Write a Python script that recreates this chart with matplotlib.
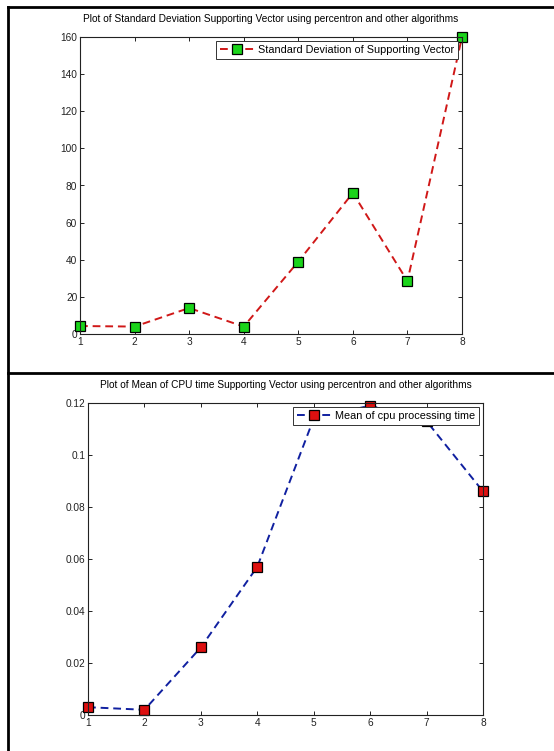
import matplotlib
matplotlib.use("Agg")
import matplotlib.pyplot as plt
from matplotlib.lines import Line2D

plt.rcParams['font.family'] = ['Liberation Sans', 'DejaVu Sans']

x_vals = [1, 2, 3, 4, 5, 6, 7, 8]
std_sv = [4.3, 4.0, 14.0, 4.0, 39.0, 76.0, 28.5, 160.0]
cpu_mean = [0.003, 0.002, 0.026, 0.057, 0.114, 0.119, 0.113, 0.086]

title1 = "Plot of Standard Deviation Supporting Vector using percentron and other algorithms"
title2 = "Plot of Mean of CPU time Supporting Vector using percentron and other algorithms"
label1 = "Standard Deviation of Supporting Vector"
label2 = "Mean of cpu processing time"
y1_ticks = [0, 20, 40, 60, 80, 100, 120, 140, 160]
y2_ticks = [0, 0.02, 0.04, 0.06, 0.08, 0.1, 0.12]
y2_labels = ["0", "0.02", "0.04", "0.06", "0.08", "0.1", "0.12"]

W, H = 554, 751
fig = plt.figure(figsize=(W / 100, H / 100), dpi=100)

def fx(px):
    return px / W

def fy(py):
    return 1 - py / H

fs = 7.3
lfs = 7.8
ax1 = fig.add_axes([fx(80), fy(334), fx(462) - fx(80), fy(37) - fy(334)])
ax2 = fig.add_axes([fx(88), fy(715), fx(483) - fx(88), fy(403) - fy(715)])

def style(ax):
    for s in ax.spines.values():
        s.set_linewidth(0.8)
        s.set_color('#222222')
    ax.tick_params(direction='in', top=True, right=True, length=3, width=0.7,
                   labelsize=fs, colors='#222222', pad=2)
    ax.set_xlim(1, 8)
    ax.set_xticks(x_vals)

ax1.plot(x_vals, std_sv, linestyle='--', color='#d01818', linewidth=1.4,
         dashes=(4, 2.5), marker='s', markersize=6.5, markerfacecolor='#1ad41a',
         markeredgecolor='black', markeredgewidth=0.9, label=label1, clip_on=False)
style(ax1)
ax1.set_ylim(0, 160)
ax1.set_yticks(y1_ticks)
ax1.set_title(title1, fontsize=fs, pad=11)
leg1 = ax1.legend(loc='upper right', fontsize=lfs, fancybox=False, framealpha=1,
                  edgecolor='#333333', handlelength=3.2, borderpad=0.35,
                  borderaxespad=0.4, handletextpad=0.3)
leg1.get_frame().set_linewidth(0.7)

ax2.plot(x_vals, cpu_mean, linestyle='--', color='#1020a0', linewidth=1.4,
         dashes=(4, 2.5), marker='s', markersize=6.5, markerfacecolor='#dd1010',
         markeredgecolor='black', markeredgewidth=0.9, label=label2, clip_on=False)
style(ax2)
ax2.set_ylim(0, 0.12)
ax2.set_yticks(y2_ticks)
ax2.set_yticklabels(y2_labels)
ax2.set_title(title2, fontsize=fs, pad=11)
leg2 = ax2.legend(loc='upper right', fontsize=lfs, fancybox=False, framealpha=1,
                  edgecolor='#333333', handlelength=3.2, borderpad=0.35,
                  borderaxespad=0.4, handletextpad=0.3)
leg2.get_frame().set_linewidth(0.7)

# outer table borders
lw = 2.0
fig.add_artist(Line2D([fx(8), fx(8)], [0, fy(7)], color='black', linewidth=lw))
fig.add_artist(Line2D([fx(8), 1], [fy(7), fy(7)], color='black', linewidth=lw))
fig.add_artist(Line2D([fx(8), 1], [fy(373), fy(373)], color='black', linewidth=lw))

fig.savefig("out.png", dpi=100, facecolor='white')
